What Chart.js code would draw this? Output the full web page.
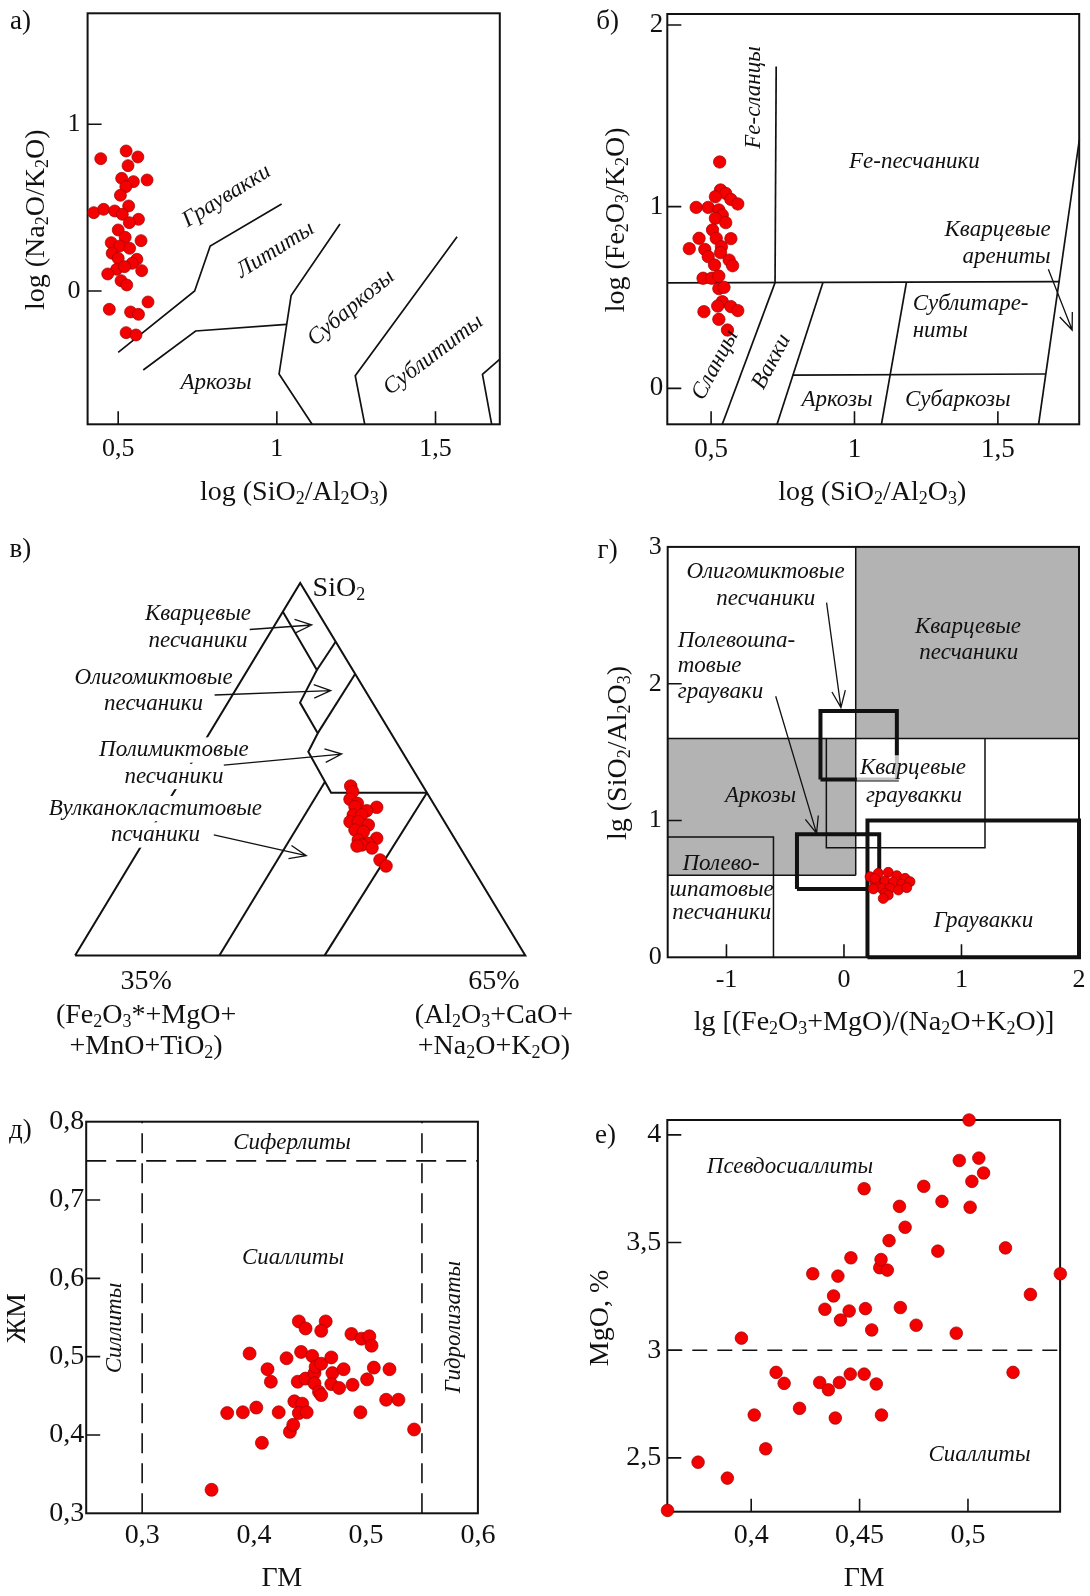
<!DOCTYPE html>
<html><head><meta charset="utf-8">
<script src="https://cdn.jsdelivr.net/npm/chart.js@4.4.1/dist/chart.umd.min.js"></script>
<style>
html,body{margin:0;padding:0;background:#fff;}
#wrap{position:relative;width:1090px;height:1596px;overflow:hidden;background:#fff;}
canvas{position:absolute;left:0;top:0;}
</style></head><body><div id="wrap">
<canvas id="cA" width="1090" height="1596"></canvas>
<canvas id="cB" width="1090" height="1596"></canvas>
<canvas id="cV" width="1090" height="1596"></canvas>
<canvas id="cG" width="1090" height="1596"></canvas>
<canvas id="cD" width="1090" height="1596"></canvas>
<canvas id="cE" width="1090" height="1596"></canvas>
</div>
<script>
// ===== DATA =====
// а) log(SiO2/Al2O3) vs log(Na2O/K2O)
const aX=[0.445,0.525,0.562,0.531,0.511,0.548,0.591,0.524,0.507,0.423,0.454,0.489,0.533,0.513,0.564,0.535,0.500,0.572,0.478,0.522,0.505,0.536,0.481,0.500,0.559,0.544,0.495,0.520,0.574,0.467,0.509,0.527,0.472,0.594,0.539,0.564,0.525,0.556];
const aY=[0.794,0.840,0.804,0.752,0.676,0.656,0.666,0.626,0.574,0.470,0.490,0.480,0.510,0.460,0.430,0.410,0.366,0.302,0.290,0.322,0.270,0.256,0.226,0.196,0.190,0.166,0.130,0.146,0.122,0.102,0.062,0.036,-0.110,-0.066,-0.126,-0.140,-0.250,-0.264];
const aBounds=[
 [[0.5,-0.368],[0.741,0],[0.79,0.27],[1.015,0.522]],
 [[0.579,-0.474],[0.744,-0.24],[1.031,-0.2]],
 [[1.199,0.402],[1.045,-0.028],[1.007,-0.498],[1.111,-0.8]],
 [[1.568,0.326],[1.247,-0.508],[1.277,-0.8]],
 [[1.702,-0.41],[1.648,-0.5],[1.677,-0.8]]
];
const aXTicks=[0.5,1,1.5], aYTicks=[0,1];

// б) log(SiO2/Al2O3) vs log(Fe2O3/K2O)
const bX=[0.530,0.533,0.551,0.515,0.569,0.593,0.448,0.490,0.527,0.539,0.515,0.551,0.505,0.518,0.569,0.458,0.424,0.478,0.536,0.490,0.533,0.563,0.512,0.575,0.472,0.502,0.527,0.527,0.545,0.539,0.523,0.569,0.593,0.475,0.527,0.557];
const bY=[1.246,1.092,1.073,1.055,1.040,1.015,0.996,0.996,0.982,0.954,0.936,0.912,0.872,0.826,0.824,0.826,0.769,0.765,0.780,0.725,0.747,0.706,0.679,0.675,0.606,0.606,0.618,0.549,0.556,0.477,0.453,0.450,0.428,0.422,0.380,0.321];
const bBounds=[
 [[0.727,1.771],[0.723,0.582]],
 [[0.347,0.58],[1.715,0.587]],
 [[1.784,1.367],[1.642,-0.198]],
 [[0.723,0.582],[0.539,-0.198]],
 [[0.890,0.582],[0.730,-0.198]],
 [[1.181,0.582],[1.094,-0.198]],
 [[0.784,0.073],[1.666,0.079]]
];
const bXTicks=[0.5,1,1.5], bYTicks=[0,1,2];

// в) ternary: SiO2 (top, %) and (Al2O3+CaO+Na2O+K2O) (right, %)
const vTop=[45.5,44.0,41.95,40.87,39.8,39.96,38.89,37.73,37.73,35.94,35.94,35.05,33.71,33.25,31.48,31.02,30.14,29.68,25.66,24.05,29.41,28.88];
const vRight=[38.47,39.66,40.09,42.25,47.09,42.19,45.33,42.93,44.8,43.09,44.93,47.6,45.32,47.4,51.25,47.39,50.06,48.82,54.9,57.04,47.92,51.51];
const vBounds=[ // [top, right]
 [[0,0],[0,100],[100,0],[0,0]],
 [[92.3,0],[76.65,15.38],[67.9,16.01],[59.7,24.05],[54.7,24.45],[43.7,35.01],[43.7,56.3]],
 [[76.65,15.38],[84.25,15.75]],
 [[59.7,24.05],[75.6,24.4]],
 [[46.67,32.17],[0,32.05]],
 [[43.7,56.3],[0,55.4]]
];

// г) lg[(Fe2O3+MgO)/(Na2O+K2O)] vs lg(SiO2/Al2O3)
const gX=[0.222,0.292,0.377,0.449,0.520,0.264,0.349,0.420,0.491,0.562,0.321,0.392,0.463,0.534,0.349,0.264,0.377,0.334,0.250];
const gY=[0.589,0.614,0.621,0.597,0.577,0.541,0.558,0.548,0.534,0.553,0.504,0.504,0.492,0.509,0.468,0.577,0.455,0.430,0.500];
const gGrayFields=[[0.1,1.6,2,3],[-1.5,0.6,0.1,1.6]];
const gThin=[
 [[-1.5,1.6],[2,1.6]],
 [[0.1,3],[0.1,0.6]],
 [[-1.5,0.6],[0.1,0.6]],
 [[-1.5,0.88],[-0.6,0.88],[-0.6,0]],
 [[-0.15,1.6],[-0.15,0.8],[1.2,0.8],[1.2,1.6]]
];
const gThick=[
 [[-0.2,1.3],[-0.2,1.8],[0.45,1.8],[0.45,1.3],[-0.2,1.3]],
 [[-0.4,0.5],[0.3,0.5],[0.3,0.9],[-0.4,0.9],[-0.4,0.5]],
 [[0.2,0],[0.2,1],[2,1],[2,0],[0.2,0]]
];
const gXTicks=[-1,0,1,2], gYTicks=[0,1,2,3];

// д) ГМ vs ЖМ
const dX=[0.362,0.376,0.390,0.402,0.396,0.412,0.415,0.407,0.422,0.429,0.432,0.435,0.436,0.440,0.446,0.442,0.439,0.443,0.440,0.447,0.446,0.452,0.454,0.455,0.454,0.460,0.458,0.460,0.464,0.460,0.469,0.470,0.469,0.476,0.480,0.487,0.488,0.496,0.503,0.505,0.501,0.507,0.495,0.518,0.521,0.529,0.543];
const dY=[0.330,0.428,0.429,0.435,0.504,0.484,0.468,0.390,0.429,0.498,0.404,0.413,0.443,0.545,0.536,0.506,0.468,0.440,0.428,0.429,0.472,0.501,0.479,0.487,0.466,0.491,0.455,0.451,0.545,0.533,0.499,0.479,0.465,0.460,0.484,0.529,0.464,0.523,0.526,0.514,0.471,0.486,0.429,0.445,0.484,0.445,0.407];
const dDashed=[[[0.3,0.3],[0.3,0.8]],[[0.55,0.3],[0.55,0.8]],[[0.25,0.75],[0.6,0.75]]];
const dXTicks=[0.3,0.4,0.5,0.6], dYTicks=[0.3,0.4,0.5,0.6,0.7,0.8];

// е) ГМ vs MgO, %
const eX=[0.3614,0.3755,0.389,0.3955,0.4067,0.4014,0.4115,0.4152,0.4223,0.4284,0.4316,0.4356,0.434,0.438,0.440,0.4412,0.4407,0.4388,0.4452,0.446,0.4457,0.4521,0.4527,0.4521,0.4556,0.4577,0.4593,0.4599,0.4628,0.4601,0.4636,0.4684,0.4688,0.471,0.4761,0.4796,0.488,0.4861,0.4946,0.496,0.5005,0.501,0.5018,0.505,0.5072,0.5173,0.5208,0.5288,0.5426];
const eY=[2.256,2.480,2.406,3.056,2.542,2.699,2.897,2.846,2.730,3.355,2.850,2.816,3.190,3.252,3.344,3.140,2.850,2.685,3.182,3.429,2.889,3.750,3.193,2.889,3.094,2.843,3.383,3.421,3.372,2.699,3.509,3.668,3.198,3.571,3.116,3.761,3.691,3.460,3.079,3.881,4.069,3.664,3.784,3.892,3.823,3.475,2.897,3.259,3.355];
const eDashed=[[[0.3613,3],[0.5425,3]]];
const eXTicks=[0.4,0.45,0.5], eYTicks=[2.5,3,3.5,4];

// ===== RENDERING =====
const W=1090,H=1596,AW=70,AH=50;
const FONT='"Liberation Serif","Times New Roman",serif';
const RED='#f50000', RED_EDGE='#9a0000', INK='#111', GRAY='#b3b3b3';
const fmt=v=>String(v).replace('.',',');
const ternXY=(t,r)=>({x:r/100+t/200,y:t/100});

function richParts(s){const parts=[];let buf='';for(let i=0;i<s.length;i++){if(s[i]==='_'){if(buf){parts.push({t:buf,sub:false});buf='';}parts.push({t:s[i+1],sub:true});i++;}else buf+=s[i];}if(buf)parts.push({t:buf,sub:false});return parts;}
function drawText(ctx,L){
  const size=L.size||23;
  const fMain=(L.it?'italic ':'')+size+'px '+FONT;
  const fSub=(L.it?'italic ':'')+Math.round(size*0.65)+'px '+FONT;
  const parts=richParts(L.t);
  ctx.save();
  let w=0;parts.forEach(p=>{ctx.font=p.sub?fSub:fMain;p.w=ctx.measureText(p.t).width;w+=p.w;});
  ctx.translate(L.x,L.y); if(L.rot) ctx.rotate(L.rot*Math.PI/180);
  const x0=L.align==='left'?0:L.align==='right'?-w:-w/2;
  if(L.bg){ctx.fillStyle=L.bg;ctx.fillRect(x0-3,-size*0.55,w+6,size*1.1);}
  ctx.fillStyle=INK;ctx.textBaseline='middle';ctx.textAlign='left';
  let x=x0;parts.forEach(p=>{ctx.font=p.sub?fSub:fMain;ctx.fillText(p.t,x,p.sub?size*0.24:0);x+=p.w;});
  ctx.restore();
}
function arrow(ctx,x1,y1,x2,y2){
  const len=18,r=22*Math.PI/180,a=Math.atan2(y2-y1,x2-x1);
  ctx.beginPath();ctx.moveTo(x1,y1);ctx.lineTo(x2,y2);
  ctx.moveTo(x2-len*Math.cos(a-r),y2-len*Math.sin(a-r));ctx.lineTo(x2,y2);ctx.lineTo(x2-len*Math.cos(a+r),y2-len*Math.sin(a+r));
  ctx.stroke();
}
function lineDs(pts,w,dash,color){return {data:pts.map(p=>({x:p[0],y:p[1]})),showLine:true,pointRadius:0,borderColor:color||INK,backgroundColor:'transparent',borderWidth:w||1.6,borderDash:dash||[],borderJoinStyle:'miter',borderCapStyle:'butt',fill:false,tension:0,clip:false};}
function pointDs(pts,r){return {data:pts,showLine:false,pointRadius:r,pointBackgroundColor:RED,pointBorderColor:RED_EDGE,pointBorderWidth:0.7,clip:false};}

function deco(P){return {
  id:'deco',
  beforeDatasetsDraw(chart){
    const ctx=chart.ctx,ca=chart.chartArea,xs=chart.scales.x,ys=chart.scales.y;
    ctx.save();
    (P.rects||[]).forEach(r=>{const x1=xs.getPixelForValue(r[0]),y1=ys.getPixelForValue(r[1]),x2=xs.getPixelForValue(r[2]),y2=ys.getPixelForValue(r[3]);ctx.fillStyle=GRAY;ctx.fillRect(Math.min(x1,x2),Math.min(y1,y2),Math.abs(x2-x1),Math.abs(y2-y1));});
    if(P.frame!==false){
      ctx.strokeStyle=INK;ctx.lineWidth=2;ctx.strokeRect(ca.left,ca.top,ca.right-ca.left,ca.bottom-ca.top);
      ctx.lineWidth=1.6;ctx.beginPath();
      (P.xm||[]).forEach(v=>{const px=xs.getPixelForValue(v);ctx.moveTo(px,ca.bottom);ctx.lineTo(px,ca.bottom-13);});
      (P.ym||[]).forEach(v=>{const py=ys.getPixelForValue(v);ctx.moveTo(ca.left,py);ctx.lineTo(ca.left+14,py);});
      ctx.stroke();
    }
    ctx.restore();
  },
  afterDraw(chart){
    const ctx=chart.ctx,xs=chart.scales.x,ys=chart.scales.y;
    (P.labels||[]).forEach(L=>drawText(ctx,L));
    ctx.save();ctx.strokeStyle=INK;ctx.lineWidth=1.3;
    (P.arrows||[]).forEach(a=>arrow(ctx,xs.getPixelForValue(a[0][0]),ys.getPixelForValue(a[0][1]),xs.getPixelForValue(a[1][0]),ys.getPixelForValue(a[1][1])));
    ctx.restore();
  }
};}

function build(id,P){
  const axes=P.axes!==false;
  const aw=axes?AW:0, ah=axes?AH:0;
  const tickFont={family:FONT,size:P.tf||27};
  const pad={left:P.box[0]-aw,top:P.box[1],right:W-P.box[2],bottom:H-P.box[3]-ah};
  new Chart(document.getElementById(id),{
    type:'scatter',
    data:{datasets:P.datasets},
    options:{responsive:false,animation:false,devicePixelRatio:1,events:[],
      layout:{padding:pad},
      plugins:{legend:{display:false},tooltip:{enabled:false}},
      scales:{
        x:{type:'linear',min:P.xr[0],max:P.xr[1],display:axes,grid:{display:false,drawTicks:false},border:{display:false},
           afterFit:s=>{s.height=ah;s.paddingLeft=0;s.paddingRight=0;s.paddingTop=0;s.paddingBottom=0;},
           afterBuildTicks:s=>{s.ticks=(P.xt||[]).map(v=>({value:v}));},
           ticks:{font:tickFont,color:INK,padding:P.xpad||5,maxRotation:0,minRotation:0,autoSkip:false,callback:v=>fmt(v)}},
        y:{type:'linear',min:P.yr[0],max:P.yr[1],display:axes,grid:{display:false,drawTicks:false},border:{display:false},
           afterFit:s=>{s.width=aw;s.paddingLeft=0;s.paddingRight=0;s.paddingTop=0;s.paddingBottom=0;},
           afterBuildTicks:s=>{s.ticks=(P.yt||[]).map(v=>({value:v}));},
           ticks:{font:tickFont,color:INK,padding:P.ypad||5,autoSkip:false,callback:v=>fmt(v)}}
      }},
    plugins:[deco(P)]
  });
}

const zip=(xs,ys)=>xs.map((x,i)=>({x,y:ys[i]}));

// а)
build('cA',{box:[87.6,13.3,499.8,424.3],xr:[0.4036,1.7026],yr:[-0.8,1.666],
  datasets:[pointDs(zip(aX,aY),6),...aBounds.map(b=>lineDs(b,1.7))],
  xt:aXTicks,yt:aYTicks,xm:aXTicks,ym:aYTicks,tf:26,xpad:9,ypad:7,
  labels:[
   {t:'а)',x:20.4,y:22,size:27},
   {t:'Граувакки',x:226.6,y:196,size:23,it:1,rot:-32},
   {t:'Лититы',x:275.3,y:250,size:23,it:1,rot:-32},
   {t:'Субаркозы',x:351,y:308,size:23,it:1,rot:-40},
   {t:'Сублититы',x:433.4,y:355,size:23,it:1,rot:-37},
   {t:'Аркозы',x:216,y:383,size:23,it:1},
   {t:'log (Na_2O/K_2O)',x:36.6,y:219.8,size:28,rot:-90},
   {t:'log (SiO_2/Al_2O_3)',x:294,y:492.6,size:28}
  ]});

// б)
build('cB',{box:[667.3,14,1079.2,424.3],xr:[0.3473,1.7836],yr:[-0.198,2.0606],
  datasets:[pointDs(zip(bX,bY),6.2),...bBounds.map(b=>lineDs(b,1.7))],
  xt:bXTicks,yt:bYTicks,xm:bXTicks,ym:bYTicks,tf:27,xpad:9,ypad:4,
  arrows:[[[1.676,0.655],[1.759,0.321]]],
  labels:[
   {t:'б)',x:607.6,y:22,size:27},
   {t:'Fe-сланцы',x:753.5,y:97.5,size:23,it:1,rot:-90},
   {t:'Fe-песчаники',x:914.4,y:162,size:23,it:1},
   {t:'Кварцевые',x:1050.7,y:230,size:23,it:1,align:'right'},
   {t:'арениты',x:1050.7,y:257,size:23,it:1,align:'right'},
   {t:'Сублитаре-',x:912.7,y:304,size:23,it:1,align:'left'},
   {t:'ниты',x:912.7,y:331,size:23,it:1,align:'left'},
   {t:'Сланцы',x:715.3,y:365,size:23,it:1,rot:-62},
   {t:'Вакки',x:771.6,y:361.7,size:23,it:1,rot:-62},
   {t:'Аркозы',x:837,y:400,size:23,it:1},
   {t:'Субаркозы',x:957.8,y:400,size:23,it:1},
   {t:'log (Fe_2O_3/K_2O)',x:616.7,y:219.8,size:28,rot:-90},
   {t:'log (SiO_2/Al_2O_3)',x:872.2,y:492.6,size:28}
  ]});

// в)
build('cV',{box:[75.1,583,525.3,955.6],xr:[0,1],yr:[0,1],axes:false,frame:false,
  datasets:[pointDs(vTop.map((t,i)=>ternXY(t,vRight[i])),6.3),...vBounds.map(b=>lineDs(b.map(p=>{const q=ternXY(p[0],p[1]);return [q.x,q.y];}),2))],
  arrows:[[[0.3878,0.8752],[0.5255,0.8873]],[[0.3099,0.6994],[0.5677,0.711]],[[0.3303,0.511],[0.5922,0.541]],[[0.3081,0.3237],[0.5135,0.2681]]],
  labels:[
   {t:'в)',x:20.4,y:549.6,size:27},
   {t:'SiO_2',x:312.6,y:588.9,size:28,align:'left'},
   {t:'Кварцевые',x:198,y:613.7,size:23,it:1},
   {t:'песчаники',x:198,y:641.2,size:23,it:1},
   {t:'Олигомиктовые',x:153.5,y:677.7,size:23,it:1},
   {t:'песчаники',x:153.5,y:704.2,size:23,it:1},
   {t:'Полимиктовые',x:173.9,y:750,size:23,it:1,bg:'#fff'},
   {t:'песчаники',x:173.9,y:776.5,size:23,it:1,bg:'#fff'},
   {t:'Вулканокластитовые',x:155.4,y:808.6,size:23,it:1,bg:'#fff'},
   {t:'псчаники',x:155.4,y:835,size:23,it:1,bg:'#fff'},
   {t:'35%',x:146.1,y:981.4,size:28},
   {t:'(Fe_2O_3*+MgO+',x:146.1,y:1015.9,size:28},
   {t:'+MnO+TiO_2)',x:146.1,y:1046.9,size:28},
   {t:'65%',x:493.9,y:981.4,size:28},
   {t:'(Al_2O_3+CaO+',x:493.9,y:1015.9,size:28},
   {t:'+Na_2O+K_2O)',x:493.9,y:1046.9,size:28}
  ]});

// г)
build('cG',{box:[667.7,546.9,1079,957.3],xr:[-1.5,2],yr:[0,3],
  rects:gGrayFields,
  datasets:[pointDs(zip(gX,gY),5),...gThick.map(b=>lineDs(b,4)),...gThin.map(b=>lineDs(b,1.5))],
  xt:gXTicks,yt:gYTicks,xm:[-1,0,1],ym:[1,2],tf:26,xpad:7,ypad:6,
  arrows:[[[-0.148,2.593],[-0.026,1.825]],[[-0.581,1.908],[-0.233,0.906]]],
  labels:[
   {t:'г)',x:607.6,y:551,size:27},
   {t:'Олигомиктовые',x:765.5,y:572.3,size:23,it:1},
   {t:'песчаники',x:765.8,y:599.2,size:23,it:1},
   {t:'Полевошпа-',x:677.7,y:640.5,size:23,it:1,align:'left'},
   {t:'товые',x:677.7,y:666.3,size:23,it:1,align:'left'},
   {t:'грауваки',x:677.7,y:692.2,size:23,it:1,align:'left'},
   {t:'Кварцевые',x:968,y:626.7,size:23,it:1},
   {t:'песчаники',x:968.8,y:652.6,size:23,it:1},
   {t:'Кварцевые',x:913,y:767.9,size:23,it:1,bg:'rgba(255,255,255,0.75)'},
   {t:'граувакки',x:914,y:795.5,size:23,it:1},
   {t:'Аркозы',x:760.5,y:795.5,size:23,it:1},
   {t:'Полево-',x:721,y:864.4,size:23,it:1},
   {t:'шпатовые',x:721.7,y:890.2,size:23,it:1},
   {t:'песчаники',x:721.7,y:913.2,size:23,it:1},
   {t:'Граувакки',x:983.3,y:921.2,size:23,it:1},
   {t:'lg (SiO_2/Al_2O_3)',x:618.8,y:753,size:28,rot:-90},
   {t:'lg [(Fe_2O_3+MgO)/(Na_2O+K_2O)]',x:874,y:1022.8,size:28}
  ]});

// д)
build('cD',{box:[86.2,1121.7,477.9,1513.3],xr:[0.25,0.6],yr:[0.3,0.8],
  datasets:[pointDs(zip(dX,dY),6.5),...dDashed.map(b=>lineDs(b,1.6,[20,10]))],
  xt:dXTicks,yt:dYTicks,xm:[],ym:[0.4,0.5,0.6,0.7],tf:28,xpad:6,ypad:2,
  labels:[
   {t:'д)',x:20.4,y:1131,size:27},
   {t:'Сиферлиты',x:292,y:1143.3,size:23,it:1},
   {t:'Сиаллиты',x:293,y:1258.3,size:23,it:1},
   {t:'Силлиты',x:114.7,y:1328,size:23,it:1,rot:-90},
   {t:'Гидролизаты',x:453.6,y:1327,size:23,it:1,rot:-90},
   {t:'ЖМ',x:17.3,y:1318,size:28,rot:-90},
   {t:'ГМ',x:281.9,y:1578.5,size:28}
  ]});

// е)
build('cE',{box:[667.3,1120,1060.1,1511.7],xr:[0.3613,0.5425],yr:[2.25,4.069],
  datasets:[pointDs(zip(eX,eY),6.3),...eDashed.map(b=>lineDs(b,1.6,[15,10]))],
  xt:eXTicks,yt:eYTicks,xm:eXTicks,ym:eYTicks,tf:28,xpad:7,ypad:6,
  labels:[
   {t:'е)',x:605.5,y:1135.8,size:27},
   {t:'Псевдосиаллиты',x:790,y:1167.3,size:23,it:1},
   {t:'Сиаллиты',x:979.5,y:1455,size:23,it:1},
   {t:'MgO, %',x:600.4,y:1318,size:28,rot:-90},
   {t:'ГМ',x:864,y:1578.5,size:28}
  ]});
</script></body></html>
